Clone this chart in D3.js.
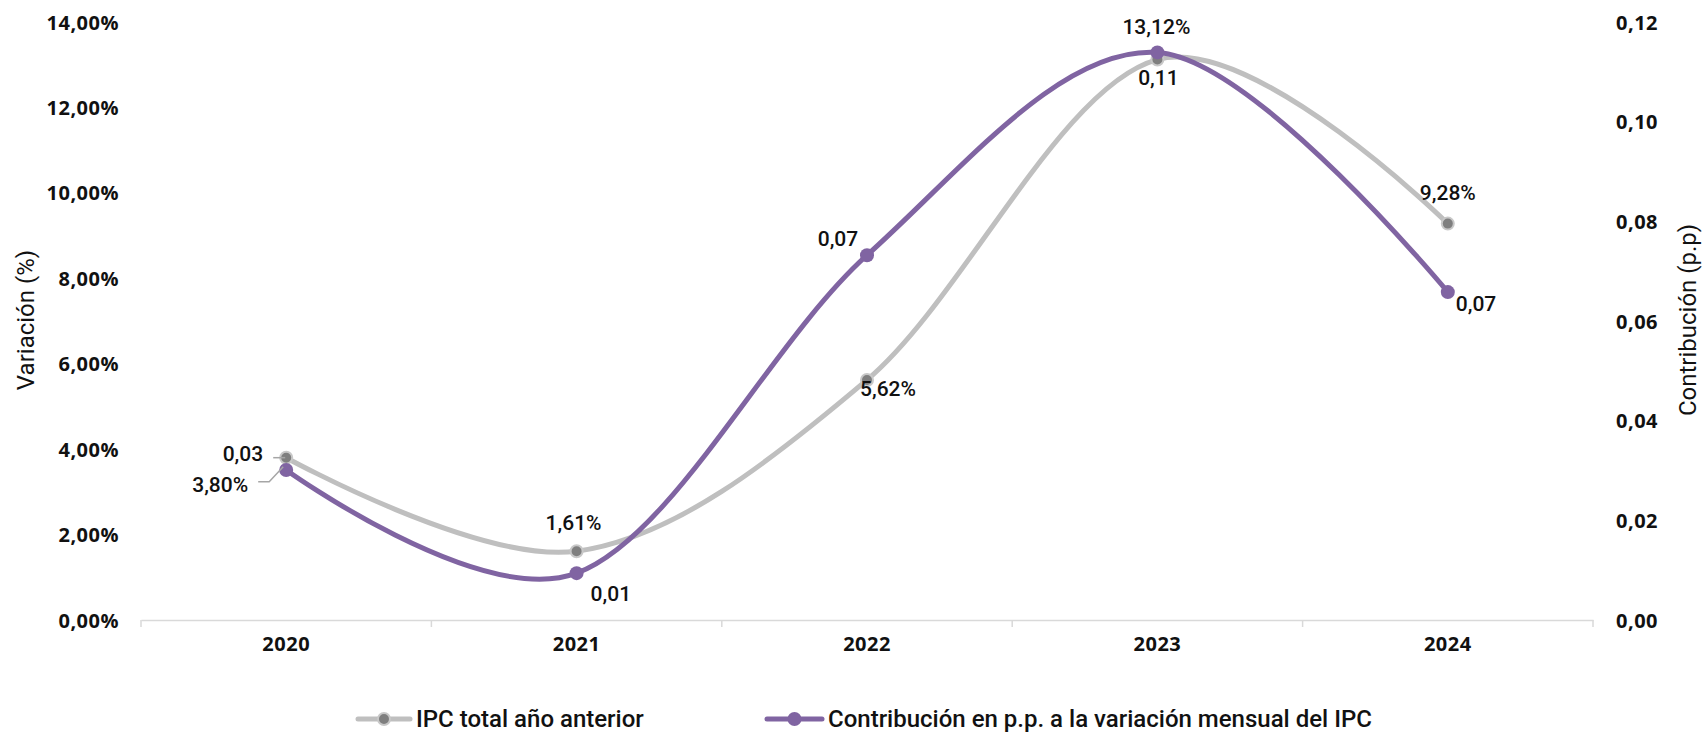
<!DOCTYPE html>
<html><head><meta charset="utf-8">
<script src="https://cdn.jsdelivr.net/npm/d3@7"></script>
<style>
body{margin:0;background:#fff;}
svg text{fill:#111;}
.tick-lbl{font-family:"Open Sans",sans-serif;font-weight:700;font-size:20px;letter-spacing:0.5px;}
.dl{font-family:Roboto,sans-serif;font-weight:500;font-size:21px;}
.ttl{font-family:Roboto,sans-serif;font-size:24px;}
.leg{font-family:Roboto,sans-serif;font-weight:500;font-size:24px;}
</style></head>
<body>
<svg id="c" width="1702" height="732"></svg>
<script>
const categories = ["2020","2021","2022","2023","2024"];
const ipcValues = [3.80, 1.61, 5.62, 13.12, 9.28];
const contribValues = [0.0301, 0.0094, 0.0732, 0.1139, 0.0658];
const leftTicks = [0,2,4,6,8,10,12,14];
const rightTicks = [0,0.02,0.04,0.06,0.08,0.10,0.12];
const seriesNames = ["IPC total año anterior","Contribución en p.p. a la variación mensual del IPC"];

// label placement (dx, dy, anchor) relative to each point
const ipcLabelPos = [[-38,27,"end"],[-3,-29,"middle"],[21,9,"middle"],[-1,-33,"middle"],[0,-31,"middle"]];
const conLabelPos = [[-23,-16,"end"],[14,20,"start"],[-29,-17,"middle"],[1,25,"middle"],[8,12,"start"]];

const svg = d3.select("#c");
const x = d3.scaleBand().domain(categories).range([141,1593]).padding(0);
const yL = d3.scaleLinear().domain([0,14]).range([620,22]);
const yR = d3.scaleLinear().domain([0,0.12]).range([620,22]);
const cx = c => x(c) + x.bandwidth()/2;

const fmtPct = v => d3.format(".2f")(v).replace(".",",") + "%";
const fmtNum = v => d3.format(".2f")(v).replace(".",",");

// left axis
const gL = svg.append("g").attr("transform","translate(119,0)")
  .call(d3.axisLeft(yL).tickValues(leftTicks).tickSize(0).tickPadding(0).tickFormat(d=>fmtPct(d)));
gL.select(".domain").remove();
gL.selectAll("text").attr("class","tick-lbl").attr("dy","0.35em");

// right axis
const gR = svg.append("g").attr("transform","translate(1616,0)")
  .call(d3.axisRight(yR).tickValues(rightTicks).tickSize(0).tickPadding(0).tickFormat(d=>fmtNum(d)));
gR.select(".domain").remove();
gR.selectAll("text").attr("class","tick-lbl").attr("dy","0.35em");

// x axis
const gX = svg.append("g").attr("transform","translate(0,620)")
  .call(d3.axisBottom(x).tickSize(0).tickPadding(24));
gX.select(".domain").attr("stroke","#d9d9d9").attr("stroke-width",1.5);
gX.selectAll("text").attr("class","tick-lbl").attr("dy","0.35em");
// boundary tick marks
const bounds = categories.map(c=>x(c)).concat([x.range()[1]]);
svg.append("g").selectAll("line").data(bounds).join("line")
  .attr("x1",d=>d).attr("x2",d=>d).attr("y1",620).attr("y2",627)
  .attr("stroke","#d9d9d9").attr("stroke-width",1.5);

// axis titles
svg.append("text").attr("class","ttl").attr("text-anchor","middle")
  .attr("transform","translate(34,320) rotate(-90)").text("Variación (%)");
svg.append("text").attr("class","ttl").attr("text-anchor","middle")
  .attr("transform","translate(1696,320) rotate(-90)").text("Contribución (p.p)");

const curve = d3.curveCardinal.tension(0);
const ipcData = categories.map((c,i)=>({c, v:ipcValues[i]}));
const conData = categories.map((c,i)=>({c, v:contribValues[i]}));

const grayLine="#bfbfbf", grayMark="#7f7f7f", purple="#8064a2";

svg.append("path").datum(ipcData)
  .attr("d", d3.line().x(d=>cx(d.c)).y(d=>yL(d.v)).curve(curve))
  .attr("fill","none").attr("stroke",grayLine).attr("stroke-width",5).attr("stroke-linecap","round");
svg.append("g").selectAll("circle").data(ipcData).join("circle")
  .attr("cx",d=>cx(d.c)).attr("cy",d=>yL(d.v)).attr("r",6)
  .attr("fill",grayMark).attr("stroke","#c8c8c8").attr("stroke-width",2);

svg.append("path").datum(conData)
  .attr("d", d3.line().x(d=>cx(d.c)).y(d=>yR(d.v)).curve(curve))
  .attr("fill","none").attr("stroke",purple).attr("stroke-width",5).attr("stroke-linecap","round");
svg.append("g").selectAll("circle").data(conData).join("circle")
  .attr("cx",d=>cx(d.c)).attr("cy",d=>yR(d.v)).attr("r",7)
  .attr("fill",purple);

// leader lines for 2020
const p0 = {x:cx(categories[0]), yi:yL(ipcValues[0]), yc:yR(contribValues[0])};
svg.append("path").attr("d",`M${p0.x-13},${p0.yi} L${p0.x-1},${p0.yi}`)
  .attr("stroke","#a6a6a6").attr("stroke-width",1.5).attr("fill","none");
svg.append("path").attr("d",`M${p0.x-28},${p0.yi+24} L${p0.x-17},${p0.yi+24} L${p0.x-3},${p0.yi+9}`)
  .attr("stroke","#a6a6a6").attr("stroke-width",1.5).attr("fill","none");

// data labels
svg.append("g").selectAll("text").data(ipcData).join("text").attr("class","dl")
  .attr("x",(d,i)=>cx(d.c)+ipcLabelPos[i][0]).attr("y",(d,i)=>yL(d.v)+ipcLabelPos[i][1])
  .attr("text-anchor",(d,i)=>ipcLabelPos[i][2]).attr("dy","0.35em").text(d=>fmtPct(d.v));
svg.append("g").selectAll("text").data(conData).join("text").attr("class","dl")
  .attr("x",(d,i)=>cx(d.c)+conLabelPos[i][0]).attr("y",(d,i)=>yR(d.v)+conLabelPos[i][1])
  .attr("text-anchor",(d,i)=>conLabelPos[i][2]).attr("dy","0.35em").text(d=>fmtNum(d.v));

// legend
const legY = 719;
const leg = [{x1:358,x2:410,name:seriesNames[0],line:grayLine,mark:grayMark,r:6,st:"#c8c8c8"},
             {x1:767,x2:822,name:seriesNames[1],line:purple,mark:purple,r:7,st:"none"}];
const lg = svg.append("g").selectAll("g").data(leg).join("g");
lg.append("line").attr("x1",d=>d.x1).attr("x2",d=>d.x2).attr("y1",legY).attr("y2",legY)
  .attr("stroke",d=>d.line).attr("stroke-width",5).attr("stroke-linecap","round");
lg.append("circle").attr("cx",d=>(d.x1+d.x2)/2).attr("cy",legY).attr("r",d=>d.r)
  .attr("fill",d=>d.mark).attr("stroke",d=>d.st).attr("stroke-width",2);
lg.append("text").attr("class","leg").attr("x",d=>d.x2+6).attr("y",legY).attr("dy","0.35em").text(d=>d.name);
</script>
</body></html>
